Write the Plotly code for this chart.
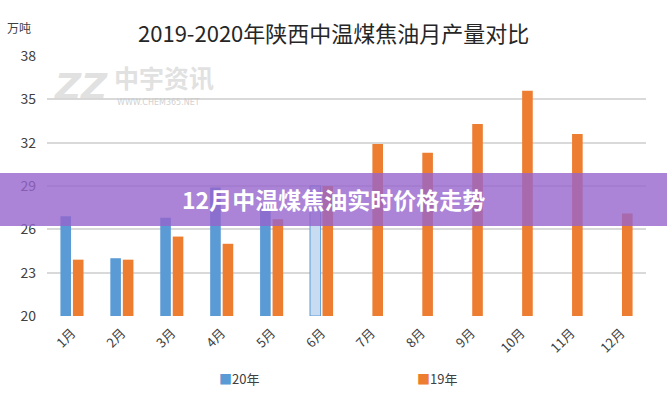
import plotly.graph_objects as go

months = ["1月", "2月", "3月", "4月", "5月", "6月", "7月", "8月", "9月", "10月", "11月", "12月"]
y2020 = [26.9, 24.0, 26.8, 28.9, 27.6, 29.0, None, None, None, None, None, None]
y2019 = [23.9, 23.9, 25.5, 25.0, 26.7, 29.0, 31.9, 31.3, 33.3, 35.6, 32.6, 27.1]
y_ticks = [20, 23, 26, 29, 32, 35, 38]

title_text = "2019-2020年陕西中温煤焦油月产量对比"
unit_text = "万吨"
banner_text = "12月中温煤焦油实时价格走势"
series_names = ["20年", "19年"]

BLUE = "#5B9BD5"
ORANGE = "#ED7D31"
FONT = "Noto Sans CJK SC"

# plot area in pixels
L, R, T, B = 47, 21, 56, 84
PW, PH = 667 - L - R, 400 - T - B


def px_x(x):
    return (x - L) / PW


def px_y(y):
    return (400 - B - y) / PH


blue_colors = [BLUE] * 5 + ["#C7DCF0"] + [BLUE] * 6
blue_lines = ["rgba(0,0,0,0)"] * 5 + [BLUE] + ["rgba(0,0,0,0)"] * 6

fig = go.Figure()
fig.add_trace(go.Bar(
    x=months, y=[None if v is None else v - 20 for v in y2020], base=20,
    name=series_names[0], marker=dict(color=blue_colors, line=dict(color=blue_lines, width=1)),
))
fig.add_trace(go.Bar(
    x=months, y=[v - 20 for v in y2019], base=20,
    name=series_names[1], marker=dict(color=ORANGE, line=dict(width=0)),
))

fig.update_layout(
    width=667, height=400,
    margin=dict(l=L, r=R, t=T, b=B, autoexpand=False),
    paper_bgcolor="white", plot_bgcolor="white",
    barmode="group", bargap=0.5, bargroupgap=0.15,
    font=dict(family=FONT, color="#404040"),
    showlegend=False,
    xaxis=dict(tickangle=-45, tickfont=dict(size=13, color="#404040"), showgrid=False,
               showline=False, ticks="", automargin=False, ticklabelstandoff=6),
    yaxis=dict(range=[20, 38], tickvals=y_ticks, showgrid=True, gridcolor="#D9D9D9",
               gridwidth=1.5, zeroline=False, showline=False, ticks="",
               tickfont=dict(size=14, color="#404040"), ticklabelstandoff=10, automargin=False),
)

# title and unit
fig.add_annotation(text=title_text, xref="paper", yref="paper", x=px_x(333), y=px_y(32),
                   xanchor="center", yanchor="middle", showarrow=False,
                   font=dict(size=22, color="#262626", family=FONT))
fig.add_annotation(text=unit_text, xref="paper", yref="paper", x=px_x(5), y=px_y(28),
                   xanchor="left", yanchor="middle", showarrow=False,
                   font=dict(size=12, color="#404040", family=FONT))

# custom legend (small square + text)
for name, col, cx in [(series_names[0], BLUE, 217), (series_names[1], ORANGE, 415)]:
    fig.add_annotation(text=f"<span style='color:{col}'>■</span>{name}", xref="paper", yref="paper",
                       x=px_x(cx), y=px_y(378), xanchor="left", yanchor="middle", showarrow=False,
                       font=dict(size=13, color="#404040", family=FONT))

# watermark
fig.add_annotation(text="<b><i>ZZ</i></b>", xref="paper", yref="paper", x=px_x(52), y=px_y(86),
                   xanchor="left", yanchor="middle", showarrow=False,
                   font=dict(size=36, color="rgba(215,215,215,0.75)", family="DejaVu Sans"))
fig.add_annotation(text="<b>中宇资讯</b>", xref="paper", yref="paper", x=px_x(112), y=px_y(77),
                   xanchor="left", yanchor="middle", showarrow=False,
                   font=dict(size=25, color="rgba(215,215,215,0.75)", family=FONT))
fig.add_annotation(text="WWW.CHEM365.NET", xref="paper", yref="paper", x=px_x(115), y=px_y(102),
                   xanchor="left", yanchor="middle", showarrow=False,
                   font=dict(size=8, color="rgba(200,200,200,0.85)", family="DejaVu Sans"))

# purple banner
fig.add_shape(type="rect", xref="paper", yref="paper", x0=px_x(-5), x1=px_x(672),
              y0=px_y(226), y1=px_y(173),
              fillcolor="rgba(150,100,205,0.8)", line=dict(width=0), layer="above")
fig.add_annotation(text="<b>" + banner_text + "</b>", xref="paper", yref="paper",
                   x=px_x(333), y=px_y(199), xanchor="center", yanchor="middle", showarrow=False,
                   font=dict(size=23, color="white", family=FONT))

fig.write_html("out.html", config={"displayModeBar": False},
               post_script="document.body.style.margin='0';")
